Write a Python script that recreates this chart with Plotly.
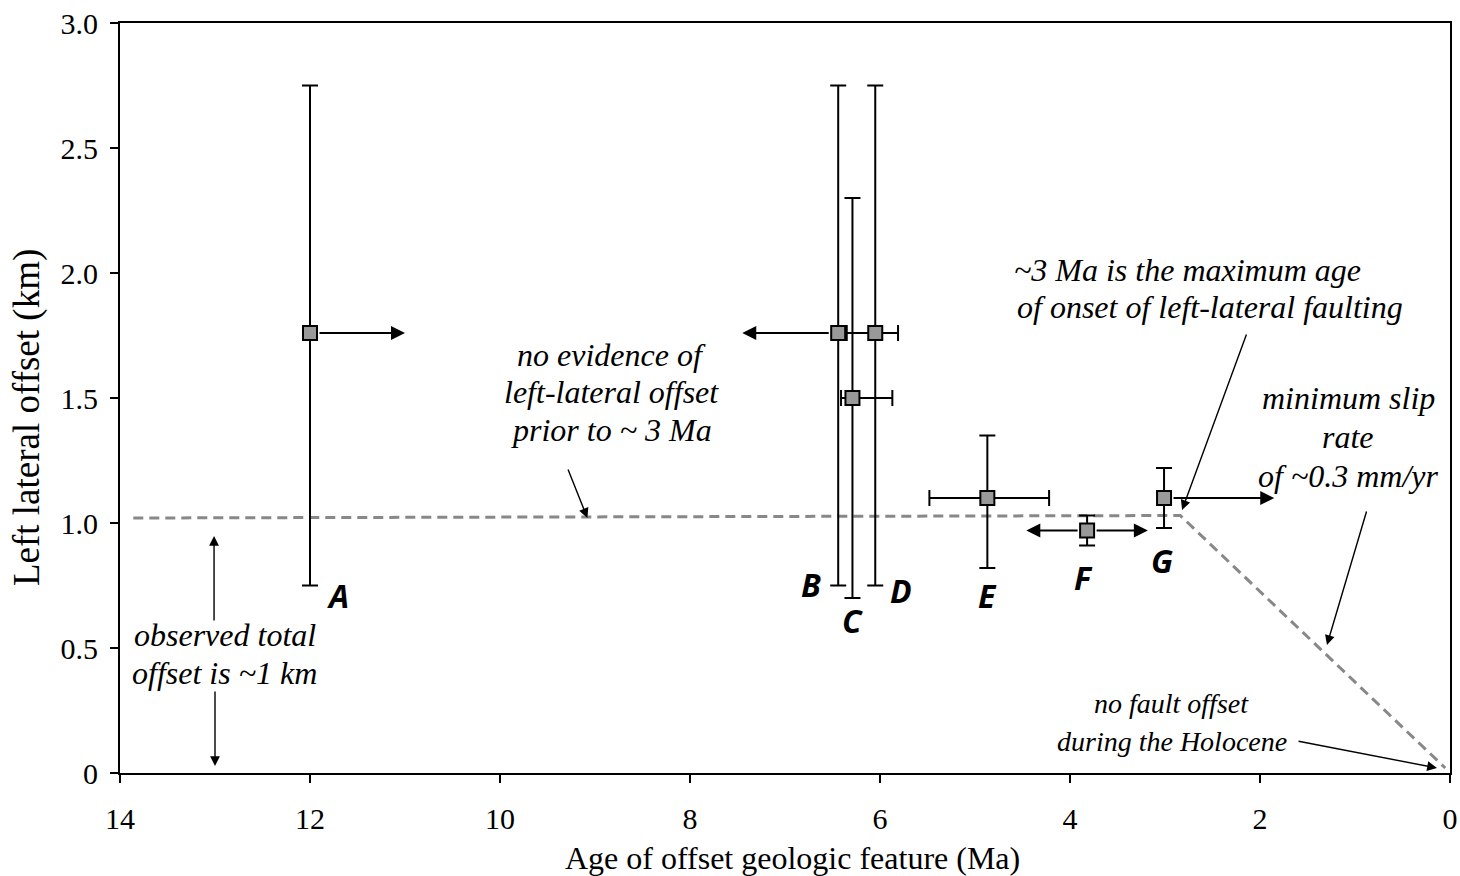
import plotly.graph_objects as go

# ---- data ----
labels = ["A", "B", "C", "D", "E", "F", "G"]
age = [12.0, 6.44, 6.29, 6.05, 4.87, 3.82, 3.01]
offset = [1.76, 1.76, 1.50, 1.76, 1.10, 0.97, 1.10]
offset_hi = [2.75, 2.75, 2.30, 2.75, 1.35, 1.03, 1.22]
offset_lo = [0.75, 0.75, 0.70, 0.75, 0.82, 0.91, 0.98]

# age ranges (only where bounded)
xr_labels = ["C", "D", "E"]
xr_age = [6.29, 6.05, 4.87]
xr_off = [1.50, 1.76, 1.10]
xr_old = [6.41, 6.35, 5.48]
xr_young = [5.87, 5.81, 4.22]

# open-ended age limits (arrows): (from age, to age, offset)
age_arrows = [
    (12.0, 11.0, 1.76),
    (6.44, 7.45, 1.76),
    (3.82, 4.46, 0.97),
    (3.82, 3.18, 0.97),
    (3.01, 1.85, 1.10),
]

# letter label positions
letter_x = [11.71, 6.73, 6.29, 5.78, 4.87, 3.86, 3.03]
letter_y = [0.712, 0.755, 0.612, 0.732, 0.712, 0.784, 0.852]

# interpretive (dashed) line
model_age = [13.86, 2.84, 0.05]
model_off = [1.02, 1.03, 0.02]

# note text lines: (text, x, y, anchor, size)
note_lines = [
    ("no evidence of", 8.83, 1.672, "center", 32),
    ("left-lateral offset", 8.83, 1.524, "center", 32),
    ("prior to ~ 3 Ma", 8.83, 1.372, "center", 32),
    ("~3 Ma is the maximum age", 4.61, 2.012, "left", 32),
    ("of onset of left-lateral faulting", 4.58, 1.864, "left", 32),
    ("minimum slip", 1.07, 1.500, "center", 32),
    ("rate", 1.07, 1.344, "center", 32),
    ("of ~0.3 mm/yr", 1.07, 1.188, "center", 32),
    ("no fault offset", 2.93, 0.280, "center", 28),
    ("during the Holocene", 2.93, 0.128, "center", 28),
    ("observed total", 12.9, 0.552, "center", 32),
    ("offset is ~1 km", 12.9, 0.400, "center", 32),
]

# pointer arrows: (tail x, tail y, head x, head y)
pointers = [
    (9.29, 1.22, 9.08, 1.02),
    (2.137, 1.76, 2.82, 1.052),
    (0.874, 1.052, 1.295, 0.512),
    (1.61, 0.128, 0.137, 0.02),
    (13.01, 0.604, 13.01, 0.948),
    (13.0, 0.332, 13.0, 0.028),
]

xticks = [0, 2, 4, 6, 8, 10, 12, 14]
yticks = [0, 0.5, 1.0, 1.5, 2.0, 2.5, 3.0]
yticklabels = ["0", "0.5", "1.0", "1.5", "2.0", "2.5", "3.0"]

x_title = "Age of offset geologic feature (Ma)"
y_title = "Left lateral offset (km)"

SERIF = "Liberation Serif"

fig = go.Figure()

fig.add_trace(go.Scatter(
    x=model_age, y=model_off, mode="lines",
    line=dict(color="#888888", width=3, dash="10px,6px"),
    hoverinfo="skip", showlegend=False))

fig.add_trace(go.Scatter(
    x=xr_age, y=xr_off, mode="markers",
    marker=dict(size=2, color="rgba(0,0,0,0)"),
    error_x=dict(type="data", symmetric=False,
                 array=[o - a for a, o in zip(xr_age, xr_old)],
                 arrayminus=[a - y for a, y in zip(xr_age, xr_young)],
                 color="black", thickness=2, width=8),
    showlegend=False))

fig.add_trace(go.Scatter(
    x=age, y=offset, mode="markers",
    marker=dict(symbol="square", size=14, color="#999999",
                line=dict(color="black", width=2)),
    error_y=dict(type="data", symmetric=False,
                 array=[h - o for o, h in zip(offset, offset_hi)],
                 arrayminus=[o - l for o, l in zip(offset, offset_lo)],
                 color="black", thickness=2, width=8),
    showlegend=False))

annotations = []

for x0, x1, y in age_arrows:
    annotations.append(dict(
        x=x1, y=y, ax=x0, ay=y, xref="x", yref="y", axref="x", ayref="y",
        text="", showarrow=True, arrowhead=2, arrowsize=1.4, arrowwidth=2,
        arrowcolor="black", startstandoff=8))

for lab, lx, ly in zip(labels, letter_x, letter_y):
    annotations.append(dict(
        x=lx, y=ly, xref="x", yref="y", text="<b><i>" + lab + "</i></b>",
        showarrow=False,
        font=dict(family="Open Sans", size=32, color="black")))

for t, nx, ny, anc, sz in note_lines:
    annotations.append(dict(x=nx, y=ny, xref="x", yref="y", text="<i>" + t + "</i>",
                            showarrow=False,
                            font=dict(family=SERIF, size=sz, color="black"),
                            xanchor=anc, yanchor="middle"))

for tx, ty, hx, hy in pointers:
    annotations.append(dict(
        x=hx, y=hy, ax=tx, ay=ty, xref="x", yref="y", axref="x", ayref="y",
        text="", showarrow=True, arrowhead=2, arrowsize=1.4, arrowwidth=1.4,
        arrowcolor="black"))

# axis titles
annotations.append(dict(x=0.506, y=-0.113, xref="paper", yref="paper",
                        text=x_title, showarrow=False, xanchor="center",
                        yanchor="middle", font=dict(family=SERIF, size=32)))
annotations.append(dict(x=-0.0699, y=0.4733, xref="paper", yref="paper",
                        text=y_title, showarrow=False, textangle=-90,
                        xanchor="center", yanchor="middle",
                        font=dict(family=SERIF, size=37)))

fig.update_layout(
    width=1460, height=876,
    margin=dict(l=120, r=10, t=23, b=103),
    paper_bgcolor="white", plot_bgcolor="white",
    font=dict(family=SERIF, size=30, color="black"),
    annotations=annotations,
    xaxis=dict(range=[14, 0], tickvals=xticks, ticks="outside", ticklen=8,
               tickwidth=1.5, tickcolor="black", showline=True, linecolor="black",
               linewidth=2, mirror=True, showgrid=False, zeroline=False,
               tickfont=dict(family=SERIF, size=30), ticklabelstandoff=10,
               automargin=False),
    yaxis=dict(range=[0, 3], tickvals=yticks, ticktext=yticklabels,
               ticks="outside", ticklen=8, tickwidth=1.5, tickcolor="black",
               showline=True, linecolor="black", linewidth=2, mirror=True,
               showgrid=False, zeroline=False,
               tickfont=dict(family=SERIF, size=30), ticklabelstandoff=6,
               automargin=False),
)

fig.write_html("out.html")
